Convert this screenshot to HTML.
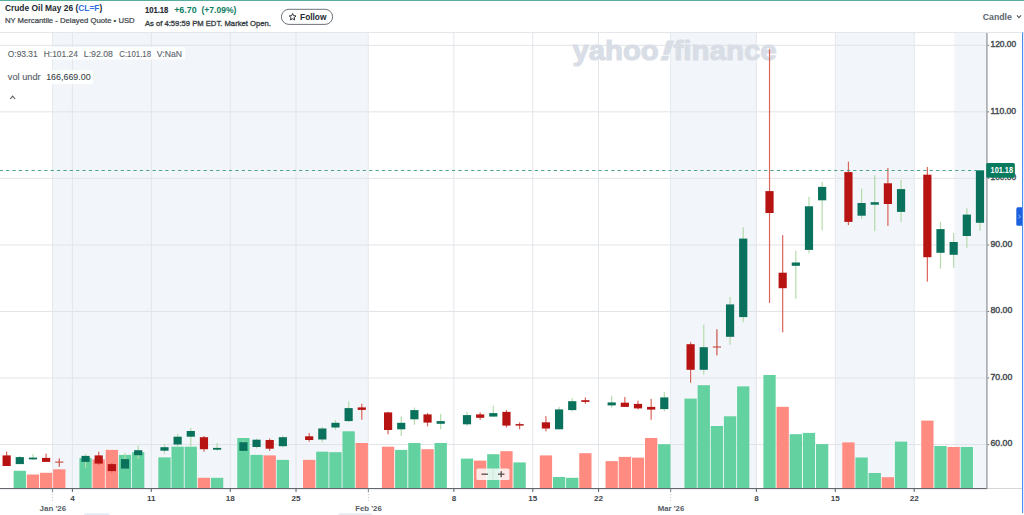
<!DOCTYPE html>
<html><head><meta charset="utf-8"><title>Crude Oil May 26 (CL=F)</title>
<style>
html,body{margin:0;padding:0;background:#fff;}
body{width:1024px;height:515px;overflow:hidden;position:relative;font-family:"Liberation Sans",sans-serif;color:#232a31;}
.t{position:absolute;white-space:nowrap;line-height:1;transform-origin:0 0;}
.b{font-weight:bold;}
#top{position:absolute;left:0;top:0;width:1024px;height:1.1px;background:#58ae9e;}
#chart{position:absolute;left:0;top:0;}
.yl{font-size:8.6px;font-weight:bold;color:#4a5056;left:990.5px;}
.xl{font-size:8.6px;font-weight:bold;color:#5c6268;transform:translateX(-50%);}
</style></head><body>
<svg id="chart" width="1024" height="515" viewBox="0 0 1024 515" font-family="Liberation Sans, sans-serif">
<rect x="0" y="32" width="1024" height="1" fill="#e3e6ea"/>
<rect x="52.6" y="33" width="315.7" height="455.3" fill="#f2f5f9"/>
<rect x="670.5" y="33" width="86.0" height="455.3" fill="#f2f5f9"/>
<rect x="835.3" y="33" width="79.2" height="455.3" fill="#f2f5f9"/>
<rect x="954.3" y="33" width="32.2" height="455.3" fill="#f2f5f9"/>
<rect x="0" y="44.80" width="987" height="1" fill="#e0e3e8"/>
<rect x="0" y="111.34" width="987" height="1" fill="#e0e3e8"/>
<rect x="0" y="177.88" width="987" height="1" fill="#e0e3e8"/>
<rect x="0" y="244.42" width="987" height="1" fill="#e0e3e8"/>
<rect x="0" y="310.96" width="987" height="1" fill="#e0e3e8"/>
<rect x="0" y="377.50" width="987" height="1" fill="#e0e3e8"/>
<rect x="0" y="444.04" width="987" height="1" fill="#e0e3e8"/>
<rect x="71.92" y="33" width="1" height="455.3" fill="#e3e6ea"/>
<rect x="150.83" y="33" width="1" height="455.3" fill="#e3e6ea"/>
<rect x="229.75" y="33" width="1" height="455.3" fill="#e3e6ea"/>
<rect x="295.52" y="33" width="1" height="455.3" fill="#e3e6ea"/>
<rect x="453.35" y="33" width="1" height="455.3" fill="#e3e6ea"/>
<rect x="532.27" y="33" width="1" height="455.3" fill="#e3e6ea"/>
<rect x="598.03" y="33" width="1" height="455.3" fill="#e3e6ea"/>
<rect x="755.87" y="33" width="1" height="455.3" fill="#e3e6ea"/>
<rect x="834.79" y="33" width="1" height="455.3" fill="#e3e6ea"/>
<rect x="913.71" y="33" width="1" height="455.3" fill="#e3e6ea"/>
<rect x="52.10" y="33" width="1" height="455.3" fill="#e6e9ed"/>
<rect x="367.80" y="33" width="1" height="455.3" fill="#e6e9ed"/>
<rect x="670.00" y="33" width="1" height="455.3" fill="#e6e9ed"/>
<g fill="#d9dee6" stroke="#d9dee6" stroke-width="1.1" stroke-linejoin="round" font-weight="bold" font-size="27.6"><text x="572.4" y="60.3" textLength="86.4" lengthAdjust="spacingAndGlyphs">yahoo</text><text x="0" y="0" transform="translate(657.5,60.3) skewX(-18) scale(1.45,1)">!</text><text x="673.4" y="60.3" textLength="103.4" lengthAdjust="spacingAndGlyphs">finance</text></g>
<rect x="13.65" y="470.8" width="12.3" height="17.5" fill="#63d1a0"/>
<rect x="26.81" y="474.5" width="12.3" height="13.8" fill="#ff8b81"/>
<rect x="39.96" y="472.8" width="12.3" height="15.5" fill="#ff8b81"/>
<rect x="53.11" y="469.3" width="12.3" height="19.0" fill="#ff8b81"/>
<rect x="79.42" y="458.1" width="12.3" height="30.2" fill="#63d1a0"/>
<rect x="92.57" y="459.4" width="12.3" height="28.9" fill="#ff8b81"/>
<rect x="105.72" y="449.9" width="12.3" height="38.4" fill="#ff8b81"/>
<rect x="118.88" y="454.9" width="12.3" height="33.4" fill="#63d1a0"/>
<rect x="132.03" y="452.2" width="12.3" height="36.1" fill="#63d1a0"/>
<rect x="158.34" y="457.4" width="12.3" height="30.9" fill="#63d1a0"/>
<rect x="171.49" y="446.7" width="12.3" height="41.6" fill="#63d1a0"/>
<rect x="184.64" y="446.7" width="12.3" height="41.6" fill="#63d1a0"/>
<rect x="197.80" y="477.8" width="12.3" height="10.5" fill="#ff8b81"/>
<rect x="210.95" y="477.8" width="12.3" height="10.5" fill="#63d1a0"/>
<rect x="237.25" y="438.0" width="12.3" height="50.3" fill="#63d1a0"/>
<rect x="250.41" y="454.9" width="12.3" height="33.4" fill="#63d1a0"/>
<rect x="263.56" y="455.4" width="12.3" height="32.9" fill="#ff8b81"/>
<rect x="276.71" y="459.9" width="12.3" height="28.4" fill="#63d1a0"/>
<rect x="303.02" y="459.9" width="12.3" height="28.4" fill="#ff8b81"/>
<rect x="316.17" y="451.7" width="12.3" height="36.6" fill="#63d1a0"/>
<rect x="329.32" y="452.2" width="12.3" height="36.1" fill="#63d1a0"/>
<rect x="342.48" y="431.3" width="12.3" height="57.0" fill="#63d1a0"/>
<rect x="355.63" y="443.0" width="12.3" height="45.3" fill="#ff8b81"/>
<rect x="381.94" y="446.7" width="12.3" height="41.6" fill="#ff8b81"/>
<rect x="395.09" y="449.9" width="12.3" height="38.4" fill="#63d1a0"/>
<rect x="408.24" y="443.0" width="12.3" height="45.3" fill="#63d1a0"/>
<rect x="421.40" y="449.2" width="12.3" height="39.1" fill="#ff8b81"/>
<rect x="434.55" y="443.0" width="12.3" height="45.3" fill="#63d1a0"/>
<rect x="460.86" y="458.6" width="12.3" height="29.7" fill="#63d1a0"/>
<rect x="474.01" y="460.6" width="12.3" height="27.7" fill="#ff8b81"/>
<rect x="487.16" y="454.2" width="12.3" height="34.1" fill="#63d1a0"/>
<rect x="500.31" y="451.2" width="12.3" height="37.1" fill="#ff8b81"/>
<rect x="513.47" y="462.4" width="12.3" height="25.9" fill="#63d1a0"/>
<rect x="539.77" y="455.4" width="12.3" height="32.9" fill="#ff8b81"/>
<rect x="552.93" y="477.0" width="12.3" height="11.3" fill="#63d1a0"/>
<rect x="566.08" y="477.8" width="12.3" height="10.5" fill="#63d1a0"/>
<rect x="579.23" y="453.2" width="12.3" height="35.1" fill="#ff8b81"/>
<rect x="605.54" y="461.1" width="12.3" height="27.2" fill="#ff8b81"/>
<rect x="618.69" y="456.9" width="12.3" height="31.4" fill="#ff8b81"/>
<rect x="631.84" y="457.6" width="12.3" height="30.7" fill="#ff8b81"/>
<rect x="645.00" y="438.0" width="12.3" height="50.3" fill="#ff8b81"/>
<rect x="658.15" y="444.2" width="12.3" height="44.1" fill="#63d1a0"/>
<rect x="684.46" y="398.6" width="12.3" height="89.7" fill="#63d1a0"/>
<rect x="697.61" y="385.2" width="12.3" height="103.1" fill="#63d1a0"/>
<rect x="710.76" y="426.0" width="12.3" height="62.3" fill="#63d1a0"/>
<rect x="723.92" y="416.3" width="12.3" height="72.0" fill="#63d1a0"/>
<rect x="737.07" y="386.4" width="12.3" height="101.9" fill="#63d1a0"/>
<rect x="763.37" y="375.0" width="12.3" height="113.3" fill="#63d1a0"/>
<rect x="776.53" y="406.8" width="12.3" height="81.5" fill="#ff8b81"/>
<rect x="789.68" y="434.2" width="12.3" height="54.1" fill="#63d1a0"/>
<rect x="802.83" y="432.9" width="12.3" height="55.4" fill="#63d1a0"/>
<rect x="815.99" y="444.1" width="12.3" height="44.2" fill="#63d1a0"/>
<rect x="842.29" y="442.4" width="12.3" height="45.9" fill="#ff8b81"/>
<rect x="855.45" y="457.5" width="12.3" height="30.8" fill="#63d1a0"/>
<rect x="868.60" y="473.0" width="12.3" height="15.3" fill="#63d1a0"/>
<rect x="881.75" y="477.2" width="12.3" height="11.1" fill="#ff8b81"/>
<rect x="894.90" y="441.6" width="12.3" height="46.7" fill="#63d1a0"/>
<rect x="921.21" y="420.6" width="12.3" height="67.7" fill="#ff8b81"/>
<rect x="934.36" y="446.0" width="12.3" height="42.3" fill="#63d1a0"/>
<rect x="947.52" y="447.0" width="12.3" height="41.3" fill="#ff8b81"/>
<rect x="960.67" y="447.0" width="12.3" height="41.3" fill="#63d1a0"/>
<rect x="6.05" y="451.6" width="1.2" height="14.4" fill="#d9655b"/>
<rect x="2.55" y="455.4" width="8.2" height="10.6" fill="#b71313"/>
<rect x="19.20" y="456.0" width="1.2" height="8.1" fill="#b5dbab"/>
<rect x="15.70" y="457.1" width="8.2" height="7.0" fill="#0a725c"/>
<rect x="32.36" y="454.2" width="1.2" height="5.8" fill="#b5dbab"/>
<rect x="28.86" y="457.6" width="8.2" height="1.8" fill="#0a725c"/>
<rect x="45.51" y="453.7" width="1.2" height="8.3" fill="#d9655b"/>
<rect x="42.01" y="457.9" width="8.2" height="4.0" fill="#b71313"/>
<rect x="58.66" y="458.4" width="1.2" height="8.4" fill="#c9564b"/>
<rect x="55.16" y="461.5" width="8.2" height="1.2" fill="#c9564b"/>
<rect x="84.97" y="454.2" width="1.2" height="13.6" fill="#b5dbab"/>
<rect x="81.47" y="455.9" width="8.2" height="6.0" fill="#0a725c"/>
<rect x="98.12" y="451.7" width="1.2" height="13.2" fill="#d9655b"/>
<rect x="94.62" y="455.4" width="8.2" height="8.2" fill="#b71313"/>
<rect x="111.27" y="462.9" width="1.2" height="9.9" fill="#d9655b"/>
<rect x="107.77" y="464.1" width="8.2" height="7.0" fill="#b71313"/>
<rect x="124.43" y="452.9" width="1.2" height="15.7" fill="#b5dbab"/>
<rect x="120.93" y="459.1" width="8.2" height="9.5" fill="#0a725c"/>
<rect x="137.58" y="445.5" width="1.2" height="13.5" fill="#b5dbab"/>
<rect x="134.08" y="450.2" width="8.2" height="5.0" fill="#0a725c"/>
<rect x="163.89" y="444.2" width="1.2" height="9.5" fill="#b5dbab"/>
<rect x="160.39" y="447.2" width="8.2" height="3.5" fill="#0a725c"/>
<rect x="177.04" y="433.8" width="1.2" height="12.9" fill="#b5dbab"/>
<rect x="173.54" y="436.7" width="8.2" height="7.8" fill="#0a725c"/>
<rect x="190.19" y="428.0" width="1.2" height="18.7" fill="#b5dbab"/>
<rect x="186.69" y="431.0" width="8.2" height="5.7" fill="#0a725c"/>
<rect x="203.35" y="436.0" width="1.2" height="15.7" fill="#d9655b"/>
<rect x="199.85" y="437.2" width="8.2" height="12.0" fill="#b71313"/>
<rect x="216.50" y="443.0" width="1.2" height="7.9" fill="#b5dbab"/>
<rect x="213.00" y="447.9" width="8.2" height="1.8" fill="#0a725c"/>
<rect x="242.80" y="441.0" width="1.2" height="10.0" fill="#b5dbab"/>
<rect x="239.30" y="442.2" width="8.2" height="8.7" fill="#0a725c"/>
<rect x="255.96" y="438.5" width="1.2" height="9.9" fill="#b5dbab"/>
<rect x="252.46" y="439.7" width="8.2" height="7.3" fill="#0a725c"/>
<rect x="269.11" y="438.5" width="1.2" height="12.4" fill="#d9655b"/>
<rect x="265.61" y="440.0" width="8.2" height="8.7" fill="#b71313"/>
<rect x="282.26" y="435.5" width="1.2" height="11.7" fill="#b5dbab"/>
<rect x="278.76" y="437.2" width="8.2" height="9.0" fill="#0a725c"/>
<rect x="308.57" y="433.0" width="1.2" height="8.7" fill="#d9655b"/>
<rect x="305.07" y="436.3" width="8.2" height="3.7" fill="#b71313"/>
<rect x="321.72" y="426.8" width="1.2" height="15.4" fill="#b5dbab"/>
<rect x="318.22" y="428.5" width="8.2" height="11.0" fill="#0a725c"/>
<rect x="334.87" y="420.0" width="1.2" height="9.8" fill="#b5dbab"/>
<rect x="331.37" y="422.8" width="8.2" height="4.7" fill="#0a725c"/>
<rect x="348.03" y="401.4" width="1.2" height="20.4" fill="#b5dbab"/>
<rect x="344.53" y="408.1" width="8.2" height="13.0" fill="#0a725c"/>
<rect x="361.18" y="403.7" width="1.2" height="16.1" fill="#d9655b"/>
<rect x="357.68" y="407.4" width="8.2" height="2.5" fill="#b71313"/>
<rect x="387.49" y="411.9" width="1.2" height="22.4" fill="#d9655b"/>
<rect x="383.99" y="412.4" width="8.2" height="17.6" fill="#b71313"/>
<rect x="400.64" y="416.4" width="1.2" height="19.6" fill="#b5dbab"/>
<rect x="397.14" y="422.8" width="8.2" height="6.5" fill="#0a725c"/>
<rect x="413.79" y="407.6" width="1.2" height="17.2" fill="#b5dbab"/>
<rect x="410.29" y="410.1" width="8.2" height="9.2" fill="#0a725c"/>
<rect x="426.95" y="413.1" width="1.2" height="13.2" fill="#d9655b"/>
<rect x="423.45" y="414.4" width="8.2" height="8.2" fill="#b71313"/>
<rect x="440.10" y="413.9" width="1.2" height="15.4" fill="#b5dbab"/>
<rect x="436.60" y="421.1" width="8.2" height="2.7" fill="#0a725c"/>
<rect x="466.40" y="411.9" width="1.2" height="14.1" fill="#b5dbab"/>
<rect x="462.90" y="415.1" width="8.2" height="9.2" fill="#0a725c"/>
<rect x="479.56" y="412.4" width="1.2" height="7.4" fill="#d9655b"/>
<rect x="476.06" y="414.4" width="8.2" height="3.4" fill="#b71313"/>
<rect x="492.71" y="405.7" width="1.2" height="10.9" fill="#b5dbab"/>
<rect x="489.21" y="413.1" width="8.2" height="3.5" fill="#0a725c"/>
<rect x="505.86" y="410.1" width="1.2" height="17.4" fill="#d9655b"/>
<rect x="502.36" y="411.9" width="8.2" height="13.7" fill="#b71313"/>
<rect x="519.02" y="422.3" width="1.2" height="7.0" fill="#d9655b"/>
<rect x="515.52" y="424.1" width="8.2" height="1.5" fill="#b71313"/>
<rect x="545.32" y="416.1" width="1.2" height="15.2" fill="#d9655b"/>
<rect x="541.82" y="422.3" width="8.2" height="6.2" fill="#b71313"/>
<rect x="558.48" y="406.9" width="1.2" height="22.4" fill="#b5dbab"/>
<rect x="554.98" y="409.4" width="8.2" height="19.9" fill="#0a725c"/>
<rect x="571.63" y="398.2" width="1.2" height="13.2" fill="#b5dbab"/>
<rect x="568.13" y="401.2" width="8.2" height="8.9" fill="#0a725c"/>
<rect x="584.78" y="397.4" width="1.2" height="6.3" fill="#d9655b"/>
<rect x="581.28" y="400.2" width="8.2" height="1.7" fill="#b71313"/>
<rect x="611.09" y="395.7" width="1.2" height="11.7" fill="#b5dbab"/>
<rect x="607.59" y="402.4" width="8.2" height="3.0" fill="#0a725c"/>
<rect x="624.24" y="397.0" width="1.2" height="10.0" fill="#d9655b"/>
<rect x="620.74" y="402.7" width="8.2" height="4.2" fill="#b71313"/>
<rect x="637.39" y="400.7" width="1.2" height="8.7" fill="#d9655b"/>
<rect x="633.89" y="403.9" width="8.2" height="4.5" fill="#b71313"/>
<rect x="650.55" y="398.9" width="1.2" height="20.9" fill="#d9655b"/>
<rect x="647.05" y="406.9" width="8.2" height="2.7" fill="#b71313"/>
<rect x="663.70" y="392.0" width="1.2" height="19.4" fill="#b5dbab"/>
<rect x="660.20" y="397.4" width="8.2" height="11.7" fill="#0a725c"/>
<rect x="690.01" y="342.2" width="1.2" height="40.6" fill="#d9655b"/>
<rect x="686.51" y="344.2" width="8.2" height="25.6" fill="#b71313"/>
<rect x="703.16" y="324.8" width="1.2" height="49.8" fill="#b5dbab"/>
<rect x="699.66" y="347.2" width="8.2" height="22.6" fill="#0a725c"/>
<rect x="716.31" y="329.3" width="1.2" height="26.1" fill="#c9564b"/>
<rect x="712.81" y="346.4" width="8.2" height="1.2" fill="#c9564b"/>
<rect x="729.47" y="297.0" width="1.2" height="47.7" fill="#b5dbab"/>
<rect x="725.97" y="304.4" width="8.2" height="32.4" fill="#0a725c"/>
<rect x="742.62" y="227.2" width="1.2" height="95.1" fill="#b5dbab"/>
<rect x="739.12" y="238.6" width="8.2" height="78.5" fill="#0a725c"/>
<rect x="768.92" y="48.9" width="1.2" height="254.1" fill="#d9655b"/>
<rect x="765.42" y="191.1" width="8.2" height="21.9" fill="#b71313"/>
<rect x="782.08" y="235.2" width="1.2" height="97.1" fill="#d9655b"/>
<rect x="778.58" y="272.7" width="8.2" height="15.5" fill="#b71313"/>
<rect x="795.23" y="250.8" width="1.2" height="47.9" fill="#b5dbab"/>
<rect x="791.73" y="262.5" width="8.2" height="3.3" fill="#0a725c"/>
<rect x="808.38" y="196.9" width="1.2" height="56.4" fill="#b5dbab"/>
<rect x="804.88" y="206.3" width="8.2" height="43.6" fill="#0a725c"/>
<rect x="821.54" y="181.9" width="1.2" height="48.5" fill="#b5dbab"/>
<rect x="818.04" y="186.9" width="8.2" height="13.4" fill="#0a725c"/>
<rect x="847.84" y="161.7" width="1.2" height="63.4" fill="#d9655b"/>
<rect x="844.34" y="172.1" width="8.2" height="49.8" fill="#b71313"/>
<rect x="861.00" y="188.6" width="1.2" height="30.3" fill="#b5dbab"/>
<rect x="857.50" y="203.0" width="8.2" height="12.7" fill="#0a725c"/>
<rect x="874.15" y="174.9" width="1.2" height="56.4" fill="#b5dbab"/>
<rect x="870.65" y="202.2" width="8.2" height="2.5" fill="#0a725c"/>
<rect x="887.30" y="167.9" width="1.2" height="58.0" fill="#d9655b"/>
<rect x="883.80" y="183.3" width="8.2" height="20.7" fill="#b71313"/>
<rect x="900.45" y="179.9" width="1.2" height="42.2" fill="#b5dbab"/>
<rect x="896.95" y="189.1" width="8.2" height="22.8" fill="#0a725c"/>
<rect x="926.76" y="167.0" width="1.2" height="114.6" fill="#d9655b"/>
<rect x="923.26" y="174.7" width="8.2" height="82.5" fill="#b71313"/>
<rect x="939.91" y="222.0" width="1.2" height="46.6" fill="#b5dbab"/>
<rect x="936.41" y="229.1" width="8.2" height="23.7" fill="#0a725c"/>
<rect x="953.07" y="233.0" width="1.2" height="35.0" fill="#b5dbab"/>
<rect x="949.57" y="242.0" width="8.2" height="12.8" fill="#0a725c"/>
<rect x="966.22" y="208.1" width="1.2" height="39.8" fill="#b5dbab"/>
<rect x="962.72" y="214.6" width="8.2" height="21.4" fill="#0a725c"/>
<rect x="979.37" y="170.3" width="1.2" height="60.5" fill="#b5dbab"/>
<rect x="975.87" y="170.3" width="8.2" height="52.5" fill="#0a725c"/>
<line x1="-0.3" y1="170.5" x2="987" y2="170.5" stroke="#48a38c" stroke-width="1" stroke-dasharray="3.2 3.17"/>
<!-- axes -->
<rect x="0" y="488" width="987.6" height="1.1" fill="#62686d"/>
<rect x="987.6" y="488" width="35" height="1" fill="#d4d7da"/>
<rect x="986.1" y="33" width="1.6" height="455.5" fill="#a6aaaf"/>
<rect x="1022" y="32.5" width="1.15" height="480.5" fill="#4d8df0"/>
<rect x="3" y="46.9" width="182" height="12.5" rx="1.5" fill="#ffffff" fill-opacity="0.92"/>
<rect x="3" y="70.3" width="90" height="14" rx="1.5" fill="#ffffff" fill-opacity="0.92"/>
<polyline points="10.2,99 12.65,96.1 15.1,99" fill="none" stroke="#555b61" stroke-width="1.1"/>
<rect x="476.4" y="468.4" width="33.1" height="11.6" rx="1.5" fill="#ffffff" fill-opacity="0.8"/>
<rect x="492.5" y="469.5" width="0.8" height="9.5" fill="#cfd2d4" fill-opacity="0.8"/>
<rect x="481.5" y="473.5" width="6.4" height="1.4" fill="#5e5557"/>
<rect x="498" y="473.5" width="6.4" height="1.4" fill="#5e5557"/>
<rect x="500.5" y="471.2" width="1.4" height="6" fill="#5e5557"/>
<rect x="281.4" y="9.3" width="51.2" height="15.1" rx="7.55" fill="#fff" stroke="#5b636a" stroke-width="0.9"/>
<path d="M292.6 13.5 L293.6 15.7 L296 15.95 L294.2 17.55 L294.7 19.9 L292.6 18.7 L290.5 19.9 L291 17.55 L289.2 15.95 L291.6 15.7 Z" fill="none" stroke="#2b3138" stroke-width="1.0" stroke-linejoin="round"/>
<polyline points="1016.9,15.3 1019,17.6 1021.1,15.3" fill="none" stroke="#555b61" stroke-width="1.1"/>
<text x="990.5" y="180.1" font-size="8.2" fill="#454b52" stroke="#454b52" stroke-width="0.4" textLength="25.6" lengthAdjust="spacingAndGlyphs">100.00</text>
<rect x="986.2" y="162.9" width="28.7" height="14.9" rx="1.6" fill="#087a5d"/>
<text x="990.6" y="172.9" font-size="8.3" font-weight="bold" fill="#ffffff" textLength="22.4" lengthAdjust="spacingAndGlyphs">101.18</text>
<path d="M1022.2 207.3 H1017.9 Q1016.3 207.3 1016.3 208.9 V224.2 Q1016.3 225.8 1017.9 225.8 H1022.2 Z" fill="#1b61de"/>
<polyline points="1018.6,215 1020.4,216.6 1018.6,218.2" fill="none" stroke="#a9c6f8" stroke-width="0.9"/>
<rect x="987.6" y="44.80" width="1.5" height="1" fill="#6a7076"/>
<rect x="987.6" y="111.34" width="1.5" height="1" fill="#6a7076"/>
<rect x="987.6" y="177.88" width="1.5" height="1" fill="#6a7076"/>
<rect x="987.6" y="244.42" width="1.5" height="1" fill="#6a7076"/>
<rect x="987.6" y="310.96" width="1.5" height="1" fill="#6a7076"/>
<rect x="987.6" y="377.50" width="1.5" height="1" fill="#6a7076"/>
<rect x="987.6" y="444.04" width="1.5" height="1" fill="#6a7076"/>
<rect x="71.87" y="489" width="1.1" height="2.9" fill="#5d6369"/>
<rect x="150.78" y="489" width="1.1" height="2.9" fill="#5d6369"/>
<rect x="229.70" y="489" width="1.1" height="2.9" fill="#5d6369"/>
<rect x="295.47" y="489" width="1.1" height="2.9" fill="#5d6369"/>
<rect x="453.30" y="489" width="1.1" height="2.9" fill="#5d6369"/>
<rect x="532.22" y="489" width="1.1" height="2.9" fill="#5d6369"/>
<rect x="597.99" y="489" width="1.1" height="2.9" fill="#5d6369"/>
<rect x="755.82" y="489" width="1.1" height="2.9" fill="#5d6369"/>
<rect x="834.74" y="489" width="1.1" height="2.9" fill="#5d6369"/>
<rect x="913.66" y="489" width="1.1" height="2.9" fill="#5d6369"/>
<rect x="51.95" y="489" width="1.1" height="3.3" fill="#878d94"/>
<rect x="52.00" y="494.15000000000003" width="1" height="0.9" fill="#b4b8bd"/>
<rect x="52.00" y="496.85" width="1" height="0.9" fill="#b4b8bd"/>
<rect x="52.00" y="499.75" width="1" height="0.9" fill="#b4b8bd"/>
<rect x="367.85" y="489" width="1.1" height="3.3" fill="#878d94"/>
<rect x="367.90" y="494.15000000000003" width="1" height="0.9" fill="#b4b8bd"/>
<rect x="367.90" y="496.85" width="1" height="0.9" fill="#b4b8bd"/>
<rect x="367.90" y="499.75" width="1" height="0.9" fill="#b4b8bd"/>
<rect x="670.15" y="489" width="1.1" height="3.3" fill="#878d94"/>
<rect x="670.20" y="494.15000000000003" width="1" height="0.9" fill="#b4b8bd"/>
<rect x="670.20" y="496.85" width="1" height="0.9" fill="#b4b8bd"/>
<rect x="670.20" y="499.75" width="1" height="0.9" fill="#b4b8bd"/>
<rect x="84" y="513.2" width="26" height="3" rx="1.5" fill="#e3edfa"/>
<rect x="338" y="513.3" width="34.5" height="3" rx="1.5" fill="#e9ecf0"/>
<text x="4.9" y="10.75" font-size="9.0" font-weight="bold" fill="#232a31" textLength="97.4" lengthAdjust="spacingAndGlyphs">Crude Oil May 26 (<tspan fill="#2f6fe4">CL=F</tspan>)</text>
<text x="4.9" y="23.3" font-size="7.6" font-weight="normal" fill="#3c434a" textLength="129.8" lengthAdjust="spacingAndGlyphs" stroke="#3c434a" stroke-width="0.22">NY Mercantile - Delayed Quote • USD</text>
<text x="144.9" y="13.3" font-size="8.9" font-weight="bold" fill="#232a31" textLength="23.4" lengthAdjust="spacingAndGlyphs" stroke="#232a31" stroke-width="0.15">101.18</text>
<text x="174.2" y="13.3" font-size="8.8" font-weight="bold" fill="#0b7d62" textLength="22.4" lengthAdjust="spacingAndGlyphs">+6.70</text>
<text x="201.5" y="13.3" font-size="8.8" font-weight="bold" fill="#0b7d62" textLength="34.8" lengthAdjust="spacingAndGlyphs">(+7.09%)</text>
<text x="144.9" y="25.8" font-size="7.6" font-weight="normal" fill="#343a41" textLength="126.0" lengthAdjust="spacingAndGlyphs" stroke="#343a41" stroke-width="0.3">As of 4:59:59 PM EDT. Market Open.</text>
<text x="300.1" y="19.6" font-size="9.2" font-weight="bold" fill="#232a31" textLength="26.3" lengthAdjust="spacingAndGlyphs">Follow</text>
<text x="982.8" y="19.6" font-size="8.8" font-weight="bold" fill="#5b6670" textLength="29.1" lengthAdjust="spacingAndGlyphs">Candle</text>
<text x="7.8" y="56.9" font-size="9.3" font-weight="normal" fill="#5b636a" textLength="29.8" lengthAdjust="spacingAndGlyphs" stroke="#5b636a" stroke-width="0.12">O:93.31</text>
<text x="43.8" y="56.9" font-size="9.3" font-weight="normal" fill="#5b636a" textLength="34.0" lengthAdjust="spacingAndGlyphs" stroke="#5b636a" stroke-width="0.12">H:101.24</text>
<text x="83.8" y="56.9" font-size="9.3" font-weight="normal" fill="#5b636a" textLength="29.2" lengthAdjust="spacingAndGlyphs" stroke="#5b636a" stroke-width="0.12">L:92.08</text>
<text x="119.3" y="56.9" font-size="9.3" font-weight="normal" fill="#5b636a" textLength="31.7" lengthAdjust="spacingAndGlyphs" stroke="#5b636a" stroke-width="0.12">C:101.18</text>
<text x="156.8" y="56.9" font-size="9.3" font-weight="normal" fill="#5b636a" textLength="25.2" lengthAdjust="spacingAndGlyphs" stroke="#5b636a" stroke-width="0.12">V:NaN</text>
<text x="7.8" y="79.7" font-size="8.8" font-weight="normal" fill="#5b636a" textLength="32.9" lengthAdjust="spacingAndGlyphs" stroke="#5b636a" stroke-width="0.15">vol undr</text>
<text x="46.2" y="79.7" font-size="8.8" font-weight="normal" fill="#3c434a" textLength="44.4" lengthAdjust="spacingAndGlyphs" stroke="#3c434a" stroke-width="0.08">166,669.00</text>
<text x="990.5" y="47.0" font-size="8.2" font-weight="normal" fill="#454b52" textLength="25.6" lengthAdjust="spacingAndGlyphs" stroke="#454b52" stroke-width="0.4">120.00</text>
<text x="990.5" y="113.5" font-size="8.2" font-weight="normal" fill="#454b52" textLength="25.6" lengthAdjust="spacingAndGlyphs" stroke="#454b52" stroke-width="0.4">110.00</text>
<text x="990.5" y="246.6" font-size="8.2" font-weight="normal" fill="#454b52" textLength="21.8" lengthAdjust="spacingAndGlyphs" stroke="#454b52" stroke-width="0.4">90.00</text>
<text x="990.5" y="313.2" font-size="8.2" font-weight="normal" fill="#454b52" textLength="21.8" lengthAdjust="spacingAndGlyphs" stroke="#454b52" stroke-width="0.4">80.00</text>
<text x="990.5" y="379.7" font-size="8.2" font-weight="normal" fill="#454b52" textLength="21.8" lengthAdjust="spacingAndGlyphs" stroke="#454b52" stroke-width="0.4">70.00</text>
<text x="990.5" y="446.2" font-size="8.2" font-weight="normal" fill="#454b52" textLength="21.8" lengthAdjust="spacingAndGlyphs" stroke="#454b52" stroke-width="0.4">60.00</text>
<text x="72.4" y="500.5" font-size="8.1" font-weight="bold" fill="#40464d" text-anchor="middle">4</text>
<text x="151.3" y="500.5" font-size="8.1" font-weight="bold" fill="#40464d" text-anchor="middle">11</text>
<text x="230.3" y="500.5" font-size="8.1" font-weight="bold" fill="#40464d" text-anchor="middle">18</text>
<text x="296.0" y="500.5" font-size="8.1" font-weight="bold" fill="#40464d" text-anchor="middle">25</text>
<text x="453.9" y="500.5" font-size="8.1" font-weight="bold" fill="#40464d" text-anchor="middle">8</text>
<text x="532.8" y="500.5" font-size="8.1" font-weight="bold" fill="#40464d" text-anchor="middle">15</text>
<text x="598.5" y="500.5" font-size="8.1" font-weight="bold" fill="#40464d" text-anchor="middle">22</text>
<text x="756.4" y="500.5" font-size="8.1" font-weight="bold" fill="#40464d" text-anchor="middle">8</text>
<text x="835.3" y="500.5" font-size="8.1" font-weight="bold" fill="#40464d" text-anchor="middle">15</text>
<text x="914.2" y="500.5" font-size="8.1" font-weight="bold" fill="#40464d" text-anchor="middle">22</text>
<text x="39.6" y="511.0" font-size="8.0" font-weight="bold" fill="#555b64" textLength="26.6" lengthAdjust="spacingAndGlyphs">Jan '26</text>
<text x="355.2" y="511.0" font-size="8.0" font-weight="bold" fill="#555b64" textLength="26.6" lengthAdjust="spacingAndGlyphs">Feb '26</text>
<text x="657.7" y="511.0" font-size="8.0" font-weight="bold" fill="#555b64" textLength="26.6" lengthAdjust="spacingAndGlyphs">Mar '26</text>
</svg>
<div id="top"></div>
<!--TEXT-->
</body></html>
